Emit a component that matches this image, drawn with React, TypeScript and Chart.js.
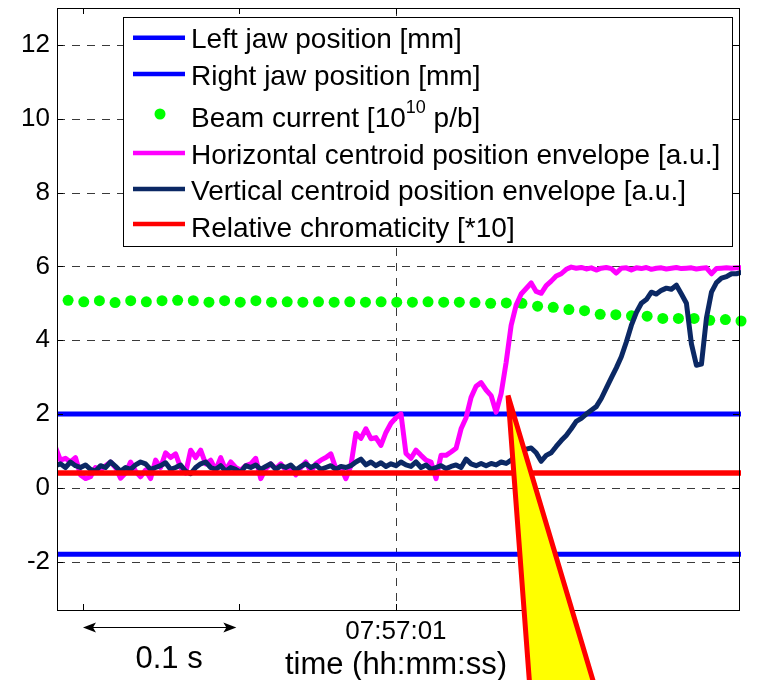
import React, { useEffect, useRef } from 'react';
import { Chart, registerables } from 'chart.js';

Chart.register(...registerables);

const FONT = '"Liberation Sans", Arial, Helvetica, sans-serif';

// sample times, ms relative to 07:57:01
const timeMs = [
  -217.6, -214.4, -211.2, -208.0, -204.8, -201.6, -198.4, -195.2, -192.0, -188.8,
  -185.6, -182.4, -179.2, -176.0, -172.8, -169.6, -166.4, -163.2, -160.0, -156.8,
  -153.6, -150.4, -147.2, -144.0, -140.8, -137.6, -134.4, -131.2, -128.0, -124.8,
  -121.6, -118.4, -115.2, -112.0, -108.8, -105.6, -102.4, -99.2, -96.0, -92.8,
  -89.6, -86.4, -83.2, -80.0, -76.8, -73.6, -70.4, -67.2, -64.0, -60.8,
  -57.6, -54.4, -51.2, -48.0, -44.8, -41.6, -38.4, -35.2, -32.0, -28.8,
  -25.6, -22.4, -19.2, -16.0, -12.8, -9.6, -6.4, -3.2, 0.0, 3.2,
  6.4, 9.6, 12.8, 16.0, 19.2, 22.4, 25.6, 28.8, 32.0, 35.2,
  38.4, 41.6, 44.8, 48.0, 51.2, 54.4, 57.6, 60.8, 64.0, 67.2,
  70.4, 73.6, 76.8, 80.0, 83.2, 86.4, 89.6, 92.8, 96.0, 99.2,
  102.4, 105.6, 108.8, 112.0, 115.2, 118.4, 121.6, 124.8, 128.0, 131.2,
  134.4, 137.6, 140.8, 144.0, 147.2, 150.4, 153.6, 156.8, 160.0, 163.2,
  166.4, 169.6, 172.8, 176.0, 179.2, 182.4, 185.6, 188.8, 192.0, 195.2,
  198.4, 201.6, 204.8, 208.0, 211.2, 214.4, 217.6, 220.8, 224.0,
];

const horizontalEnvelope = [
  1.1, 0.75, 0.8, 0.7, 0.82, 0.35, 0.25, 0.3, 0.55, 0.48,
  0.6, 0.7, 0.55, 0.26, 0.4, 0.7, 0.45, 0.3, 0.48, 0.25,
  0.75, 0.55, 0.95, 0.82, 0.92, 0.55, 0.4, 1.02, 0.82, 1.02,
  0.65, 0.75, 0.48, 0.82, 0.48, 0.7, 0.55, 0.48, 0.6, 0.65,
  0.8, 0.25, 0.52, 0.65, 0.52, 0.65, 0.48, 0.55, 0.35, 0.55,
  0.7, 0.43, 0.65, 0.75, 0.82, 0.92, 0.52, 0.55, 0.25, 0.6,
  1.48, 1.34, 1.6, 1.33, 1.36, 1.15, 1.5, 1.75, 1.9, 2.0,
  0.93, 0.8, 1.02, 0.88, 0.75, 0.7, 0.25, 0.88, 0.88, 0.97,
  1.07, 1.6, 1.9, 2.45, 2.75, 2.85, 2.65, 2.5, 2.05, 2.55,
  3.4, 4.4, 4.95, 5.25, 5.4, 5.55, 5.32, 5.27, 5.48, 5.6,
  5.74, 5.8, 5.92, 5.98, 5.95, 5.97, 5.93, 5.96, 5.9, 5.95,
  5.97, 5.94, 5.82, 5.95, 5.96, 5.9, 5.96, 5.94, 5.97, 5.92,
  5.95, 5.96, 5.93, 5.95, 5.97, 5.94, 5.95, 5.96, 5.93, 5.95,
  5.96, 5.8, 5.94, 5.95, 5.96, 5.95, 5.96, 5.96, 5.96,
];

const verticalEnvelope = [
  0.6, 0.65, 0.55, 0.7, 0.6, 0.55, 0.62, 0.5, 0.45, 0.6,
  0.55, 0.7, 0.58, 0.45, 0.55, 0.5, 0.62, 0.7, 0.65, 0.5,
  0.55, 0.6, 0.68, 0.5, 0.55, 0.62, 0.45, 0.38, 0.55, 0.65,
  0.7, 0.55, 0.5, 0.6, 0.45, 0.55, 0.5, 0.42, 0.6, 0.55,
  0.62, 0.5, 0.58, 0.65, 0.5, 0.6, 0.55, 0.62, 0.48, 0.58,
  0.65, 0.55, 0.62, 0.5, 0.55, 0.6, 0.5, 0.58, 0.55, 0.6,
  0.7, 0.78, 0.62, 0.7, 0.6, 0.68, 0.58, 0.65, 0.6, 0.7,
  0.62, 0.58, 0.7, 0.55, 0.62, 0.5, 0.55, 0.6, 0.52, 0.58,
  0.62, 0.55, 0.78, 0.65, 0.6, 0.66, 0.6, 0.66, 0.62, 0.7,
  0.66, 0.75, 0.9, 0.98, 1.05, 1.08, 0.95, 0.72, 0.88, 0.95,
  1.12, 1.28, 1.42, 1.6, 1.8, 1.88, 2.0, 2.1, 2.2, 2.42,
  2.7, 2.98, 3.25, 3.55, 3.95, 4.4, 4.75, 5.0, 5.1, 5.3,
  5.25, 5.35, 5.41, 5.38, 5.49, 5.25, 5.0, 3.9, 3.32, 3.35,
  4.6, 5.3, 5.56, 5.68, 5.72, 5.8, 5.8, 5.84, 5.84,
];

const beamTimeMs = [
  -209.5, -199.5, -189.5, -179.5, -169.5, -159.5, -149.5, -139.5, -129.5, -119.5,
  -109.5, -99.5, -89.5, -79.5, -69.5, -59.5, -49.5, -39.5, -29.5, -19.5,
  -9.5, 0.5, 10.5, 20.5, 30.5, 40.5, 50.5, 60.5, 70.5, 80.5,
  90.5, 100.5, 110.5, 120.5, 130.5, 140.5, 150.5, 160.5, 170.5, 180.5,
  190.5, 200.5, 210.5, 220.5,
];

const beamCurrent = [
  5.08, 5.04, 5.07, 5.02, 5.07, 5.04, 5.07, 5.08, 5.07, 5.03,
  5.07, 5.03, 5.07, 5.03, 5.04, 5.03, 5.04, 5.03, 5.04, 5.03,
  5.04, 5.03, 5.03, 5.04, 5.03, 5.03, 5.02, 5.0, 5.01, 5.0,
  4.92, 4.89, 4.83, 4.8, 4.7, 4.69, 4.66, 4.65, 4.59, 4.59,
  4.59, 4.54, 4.56, 4.52,
];

const leftJawPosition = [2.0, 2.0];
const rightJawPosition = [-1.8, -1.8];
const relativeChromaticity = [0.4, 0.4];

const xMin = -216.6;
const xMax = 219.2;
const yMin = -3.31;
const yMax = 13.0;
const yTickValues = [-2, 0, 2, 4, 6, 8, 10, 12];
const xTickValues = [-200, -100, 0];
const xTickLabels = ['', '', '07:57:01'];
const xGridValues = [0];

const seriesLabels = [
  'Left jaw position [mm]',
  'Right jaw position [mm]',
  'Beam current [10',
  'Horizontal centroid position envelope [a.u.]',
  'Vertical centroid position envelope [a.u.]',
  'Relative chromaticity [*10]',
];
const seriesColors = ['#0000ff', '#0000ff', '#00ff00', '#ff00ff', '#0b2864', '#ff0000'];

// callout wedge (data coordinates)
const calloutX = [71.6, 86.6, 131.4];
const calloutY = [2.5, -6, -6];
// 0.1 s scale bar (ms)
const scaleBarMs = [-200, -102];

const pts = (xs: number[], ys: number[]) => xs.map((x, i) => ({ x, y: ys[i] }));

const overlay = {
  id: 'overlay',
  beforeDatasetsDraw(chart: any) {
    const { ctx, chartArea: a, scales } = chart;
    const x = scales.x, y = scales.y;
    ctx.save();
    ctx.strokeStyle = '#3a3a3a';
    ctx.lineWidth = 1;
    ctx.setLineDash([8, 7]);
    for (const v of yTickValues) {
      const py = Math.round(y.getPixelForValue(v)) + 0.5;
      ctx.beginPath();
      ctx.moveTo(a.left, py);
      ctx.lineTo(a.right, py);
      ctx.stroke();
    }
    for (const v of xGridValues) {
      const px = Math.round(x.getPixelForValue(v)) + 0.5;
      ctx.beginPath();
      ctx.moveTo(px, a.top);
      ctx.lineTo(px, a.bottom);
      ctx.stroke();
    }
    ctx.restore();
  },
  afterDatasetsDraw(chart: any) {
    const { ctx, chartArea: a, scales } = chart;
    const x = scales.x, y = scales.y;
    ctx.save();
    ctx.setLineDash([]);
    // axes box
    ctx.strokeStyle = '#000';
    ctx.lineWidth = 1;
    ctx.strokeRect(a.left + 0.5, a.top + 0.5, a.width, a.height);
    // inward tick marks
    ctx.beginPath();
    for (const v of yTickValues) {
      const py = Math.round(y.getPixelForValue(v)) + 0.5;
      ctx.moveTo(a.left, py); ctx.lineTo(a.left + 6, py);
      ctx.moveTo(a.right, py); ctx.lineTo(a.right - 6, py);
    }
    for (const v of xTickValues) {
      const px = Math.round(x.getPixelForValue(v)) + 0.5;
      ctx.moveTo(px, a.bottom); ctx.lineTo(px, a.bottom - 6);
      ctx.moveTo(px, a.top); ctx.lineTo(px, a.top + 6);
    }
    ctx.stroke();

    // legend
    const L = a.left + 66, T = a.top + 9, W = 609, H = 229;
    ctx.fillStyle = '#fff';
    ctx.fillRect(L, T, W, H);
    ctx.strokeStyle = '#000';
    ctx.strokeRect(L + 0.5, T + 0.5, W, H);
    const lineY = [20.7, 57, 97, 136, 172, 207];
    const textY = [31, 68, 110, 147, 183, 220];
    ctx.textBaseline = 'alphabetic';
    ctx.textAlign = 'left';
    seriesLabels.forEach((label, i) => {
      if (i === 2) {
        ctx.fillStyle = seriesColors[i];
        ctx.beginPath();
        ctx.arc(L + 37, T + lineY[i], 5.5, 0, Math.PI * 2);
        ctx.fill();
      } else {
        ctx.strokeStyle = seriesColors[i];
        ctx.lineWidth = 4.5;
        ctx.beginPath();
        ctx.moveTo(L + 10, T + lineY[i]);
        ctx.lineTo(L + 62, T + lineY[i]);
        ctx.stroke();
      }
      ctx.fillStyle = '#000';
      ctx.font = `28px ${FONT}`;
      const tx = L + 68;
      ctx.fillText(label, tx, T + textY[i]);
      if (i === 2) {
        const w1 = ctx.measureText(label).width;
        ctx.font = `18px ${FONT}`;
        ctx.fillText('10', tx + w1, T + textY[i] - 14);
        const w2 = ctx.measureText('10').width;
        ctx.font = `28px ${FONT}`;
        ctx.fillText(' p/b]', tx + w1 + w2, T + textY[i]);
      }
    });

    // callout wedge
    ctx.beginPath();
    calloutX.forEach((v, i) => {
      const px = x.getPixelForValue(v), py = y.getPixelForValue(calloutY[i]);
      if (i === 0) ctx.moveTo(px, py); else ctx.lineTo(px, py);
    });
    ctx.closePath();
    ctx.fillStyle = '#ffff00';
    ctx.fill();
    ctx.strokeStyle = '#ff0000';
    ctx.lineWidth = 5;
    ctx.lineJoin = 'bevel';
    ctx.stroke();

    // 0.1 s scale bar
    const ay = a.bottom + 17.5;
    const x1 = x.getPixelForValue(scaleBarMs[0]);
    const x2 = x.getPixelForValue(scaleBarMs[1]);
    ctx.strokeStyle = '#000';
    ctx.fillStyle = '#000';
    ctx.lineWidth = 1;
    ctx.lineJoin = 'miter';
    ctx.beginPath();
    ctx.moveTo(x1 + 2, ay); ctx.lineTo(x2 - 2, ay);
    ctx.stroke();
    const head = (tip: number, dir: number) => {
      ctx.beginPath();
      ctx.moveTo(tip, ay);
      ctx.lineTo(tip + dir * 13, ay - 5);
      ctx.lineTo(tip + dir * 10, ay);
      ctx.lineTo(tip + dir * 13, ay + 5);
      ctx.closePath();
      ctx.fill();
    };
    head(x1, 1);
    head(x2, -1);

    ctx.font = `31px ${FONT}`;
    ctx.textAlign = 'center';
    ctx.fillText('0.1 s', x.getPixelForValue(-145), a.bottom + 58);
    ctx.fillText('time (hh:mm:ss)', x.getPixelForValue(0), a.bottom + 64);
    ctx.restore();
  },
};

export default function App() {
  const ref = useRef<HTMLCanvasElement | null>(null);
  useEffect(() => {
    if (!ref.current) return;
    const span = [timeMs[0], timeMs[timeMs.length - 1]];
    const clipR = { left: 0, top: 0, right: 2, bottom: 0 };
    const chart = new Chart(ref.current, {
      type: 'line',
      data: {
        datasets: [
          { label: seriesLabels[0], data: pts(span, leftJawPosition), borderColor: seriesColors[0], borderWidth: 5, pointRadius: 0, order: 5, clip: clipR } as any,
          { label: seriesLabels[1], data: pts(span, rightJawPosition), borderColor: seriesColors[1], borderWidth: 5, pointRadius: 0, order: 4, clip: clipR },
          { label: seriesLabels[2], data: pts(beamTimeMs, beamCurrent), showLine: false, pointRadius: 5.5, pointBackgroundColor: seriesColors[2], pointBorderWidth: 0, borderColor: seriesColors[2], order: 3, clip: false },
          { label: seriesLabels[3], data: pts(timeMs, horizontalEnvelope), borderColor: seriesColors[3], borderWidth: 5, pointRadius: 0, borderJoinStyle: 'round', order: 2, clip: clipR },
          { label: seriesLabels[4], data: pts(timeMs, verticalEnvelope), borderColor: seriesColors[4], borderWidth: 5, pointRadius: 0, borderJoinStyle: 'round', order: 1, clip: clipR },
          { label: seriesLabels[5], data: pts(span, relativeChromaticity), borderColor: seriesColors[5], borderWidth: 5.5, pointRadius: 0, order: 0, clip: clipR },
        ],
      },
      options: {
        animation: false,
        responsive: false,
        devicePixelRatio: 1,
        events: [],
        layout: { padding: { left: 0, right: 18, top: 8, bottom: 0 } },
        plugins: { legend: { display: false }, tooltip: { enabled: false } },
        scales: {
          x: {
            type: 'linear',
            min: xMin,
            max: xMax,
            grid: { display: false, drawTicks: false },
            border: { display: false },
            afterBuildTicks: (s: any) => { s.ticks = xTickValues.map((v) => ({ value: v })); },
            afterFit: (s: any) => { s.height = 70; s.paddingLeft = 0; s.paddingRight = 0; },
            ticks: {
              autoSkip: false,
              maxRotation: 0,
              minRotation: 0,
              padding: 6,
              color: '#000',
              font: { family: FONT, size: 26 },
              callback: (_v: any, i: number) => xTickLabels[i] ?? '',
            },
          },
          y: {
            type: 'linear',
            min: yMin,
            max: yMax,
            grid: { display: false, drawTicks: false },
            border: { display: false },
            afterBuildTicks: (s: any) => { s.ticks = yTickValues.map((v) => ({ value: v })); },
            afterFit: (s: any) => { s.width = 57; s.paddingTop = 0; s.paddingBottom = 0; },
            ticks: {
              padding: 7,
              color: '#000',
              font: { family: FONT, size: 26 },
              callback: (v: any) => String(v),
            },
          },
        },
      } as any,
      plugins: [overlay as any],
    });
    return () => chart.destroy();
  }, []);
  return (
    <div style={{ position: 'absolute', left: 0, top: 0, width: 757, height: 680, background: '#fff' }}>
      <canvas ref={ref} width={757} height={680} style={{ display: 'block' }} />
    </div>
  );
}
